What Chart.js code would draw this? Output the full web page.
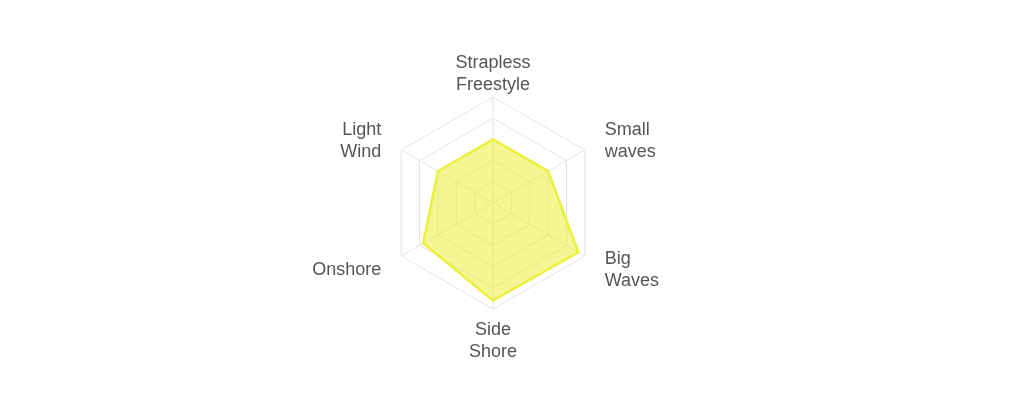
<!DOCTYPE html>
<html>
<head>
<meta charset="utf-8">
<style>
  html, body { margin: 0; padding: 0; background: #fff; }
  #wrap { position: relative; width: 1024px; height: 415px; }
</style>
<script src="https://cdn.jsdelivr.net/npm/chart.js@4.4.0/dist/chart.umd.min.js"></script>
</head>
<body>
<div id="wrap"><canvas id="chart"></canvas></div>
<script>
// axis labels, clockwise from the top
const labels = [
  ["Strapless", "Freestyle"],
  ["Small", "waves"],
  ["Big", "Waves"],
  ["Side", "Shore"],
  ["Onshore"],
  ["Light", "Wind"],
]
// ratings on a 0-5 scale
const ratings = [3, 3, 4.65, 4.6, 3.8, 3]
const scaleMax = 5

const labelFont = "18px 'Liberation Sans', Arial, sans-serif"
const labelLineHeight = 22

// point labels drawn by hand: side labels sit level with their spoke,
// top and bottom ones just off the outer ring
const axisLabels = {
  id: "axisLabels",
  afterDraw(chart) {
    const scale = chart.scales.r
    const ctx = chart.ctx
    ctx.save()
    ctx.font = labelFont
    ctx.fillStyle = "#555"
    ctx.textBaseline = "middle"
    chart.data.labels.forEach((lines, i) => {
      const probe = scale.getPointPosition(i, scale.drawingArea)
      const dx = probe.x - scale.xCenter
      const h = lines.length * labelLineHeight
      let p, top
      if (Math.abs(dx) < 1) {
        ctx.textAlign = "center"
        if (probe.y < scale.yCenter) {
          p = scale.getPointPosition(i, scale.drawingArea + 1)
          top = p.y - h
        } else {
          p = scale.getPointPosition(i, scale.drawingArea + 10.5)
          top = p.y
        }
      } else {
        ctx.textAlign = dx > 0 ? "left" : "right"
        p = scale.getPointPosition(i, scale.drawingArea + 23)
        top = p.y - h / 2 + 3
      }
      lines.forEach((line, k) => {
        ctx.fillText(line, p.x, top + labelLineHeight * (k + 0.5))
      })
    })
    ctx.restore()
  },
}

new Chart(document.getElementById("chart"), {
  type: "radar",
  data: {
    labels: labels,
    datasets: [{
      label: "Rating",
      data: ratings,
      backgroundColor: "rgba(232, 238, 40, 0.5)",
      borderColor: "rgb(234, 240, 60)",
      borderWidth: 2.5,
      pointRadius: 0,
      pointHoverRadius: 0,
    }],
  },
  plugins: [axisLabels],
  options: {
    responsive: true,
    maintainAspectRatio: false,
    animation: false,
    layout: { padding: { top: 97, bottom: 106, left: 0, right: 38 } },
    plugins: {
      legend: { display: false },
      tooltip: { enabled: false },
    },
    scales: {
      r: {
        min: 0,
        max: scaleMax,
        ticks: { display: false, stepSize: 1 },
        grid: { color: "#e3e3e3", lineWidth: 1 },
        angleLines: { color: "#e3e3e3", lineWidth: 1 },
        pointLabels: { display: false },
      },
    },
  },
})
</script>
</body>
</html>
